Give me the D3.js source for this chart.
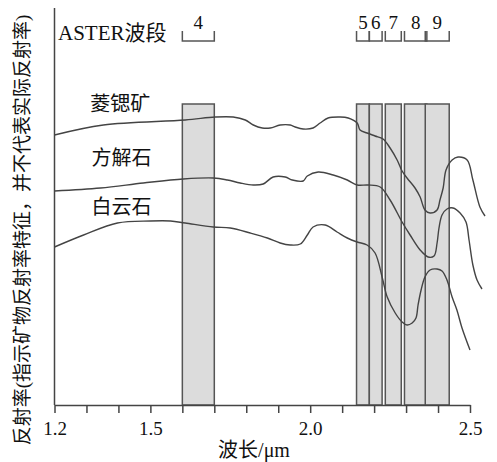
<!DOCTYPE html>
<html>
<head>
<meta charset="utf-8">
<script src="https://cdn.jsdelivr.net/npm/d3@7"></script>
<style>
  body { margin: 0; background: #fff; }
  text { font-family: "Liberation Serif", "Noto Sans CJK SC", serif; fill: #111; }
</style>
</head>
<body>
<svg id="chart"></svg>
<script>
const width = 497, height = 462;

// ASTER SWIR bands (µm)
const bandNames = ["4", "5", "6", "7", "8", "9"];
const bandStart = [1.600, 2.145, 2.185, 2.235, 2.295, 2.360];
const bandEnd   = [1.700, 2.185, 2.225, 2.285, 2.365, 2.435];

// spectra: wavelength (µm) and relative reflectance
const seriesNames = ["菱锶矿", "方解石", "白云石"];
const strontianiteX = [1.200, 1.353, 1.609, 1.703, 1.759, 1.797, 1.822, 1.850, 1.875, 1.906, 1.9375, 1.953, 1.978, 2.009, 2.031, 2.056, 2.094, 2.119, 2.147, 2.156, 2.178, 2.203, 2.228, 2.250, 2.272, 2.2875, 2.303, 2.328, 2.344, 2.359, 2.375, 2.397, 2.406, 2.416, 2.425, 2.444, 2.4625, 2.491, 2.509, 2.531, 2.547];
const strontianiteY = [67.5, 70, 71.25, 72, 72, 71.25, 70, 69.25, 69.25, 70, 70, 69.5, 69, 69.25, 70.5, 71.75, 72, 71.75, 70.5, 68.75, 68, 67.25, 66.5, 64.25, 61.25, 58.5, 56.75, 54.25, 52, 48.75, 48, 48.75, 51.25, 54.25, 58.75, 61.25, 62, 61.25, 56.25, 49.5, 47.25];
const calciteX = [1.200, 1.344, 1.478, 1.603, 1.697, 1.741, 1.781, 1.822, 1.853, 1.884, 1.922, 1.944, 1.978, 1.991, 2.025, 2.072, 2.116, 2.147, 2.181, 2.219, 2.250, 2.2875, 2.3125, 2.344, 2.369, 2.3875, 2.397, 2.403, 2.4125, 2.428, 2.447, 2.469, 2.4875, 2.497, 2.509, 2.522, 2.5375];
const calciteY = [53.5, 54.25, 55.5, 56.5, 56.75, 56.25, 55.5, 55, 55.25, 57, 57, 56.25, 56, 57.25, 58.25, 57.5, 56.25, 55, 55, 54.5, 51.25, 45.75, 42.5, 38.75, 37, 37.25, 40.5, 44.25, 47.5, 49, 49.25, 48, 45.75, 41.25, 35, 31.25, 29];
const dolomiteX = [1.200, 1.291, 1.397, 1.500, 1.563, 1.609, 1.697, 1.750, 1.8125, 1.866, 1.906, 1.9375, 1.969, 1.991, 2.009, 2.047, 2.084, 2.116, 2.147, 2.178, 2.203, 2.225, 2.241, 2.266, 2.2875, 2.303, 2.319, 2.331, 2.3375, 2.347, 2.359, 2.375, 2.397, 2.4125, 2.428, 2.444, 2.459, 2.475, 2.500];
const dolomiteY = [39.5, 42.5, 45.5, 46, 46, 45.5, 44.5, 44.25, 43, 41.75, 40.5, 40, 40.25, 42.5, 44.5, 45, 43.25, 41.75, 40.75, 40, 38, 32, 27, 23, 20.75, 20, 20.5, 21.75, 25, 28.75, 32, 33.75, 34, 33.5, 31.25, 27, 23.75, 19.25, 13.75];
const labelX = [1.406, 1.41, 1.41];
const labelY = [75.25, 61.75, 49.5];

const tickValues = d3.range(12, 26).map(d => d / 10);
const tickLabels = ["1.2", "1.5", "2.0", "2.5"];

const svg = d3.select("#chart").attr("width", width).attr("height", height);

const x = d3.scaleLinear().domain([1.2, 2.5]).range([54.5, 470]);
const y = d3.scaleLinear().domain([0, 100]).range([405, 5]);

// band rectangles
const bands = bandNames.map((n, i) => ({ name: n, x0: bandStart[i], x1: bandEnd[i] }));
svg.selectAll(".band")
    .data(bands)
    .enter().append("rect")
    .attr("class", "band")
    .attr("x", d => x(d.x0))
    .attr("width", d => x(d.x1) - x(d.x0))
    .attr("y", y(75.25))
    .attr("height", y(0) - y(75.25))
    .attr("fill", "#dcdcdc")
    .attr("stroke", "#555")
    .attr("stroke-width", 1.5);

// brackets + band numbers at the top
svg.selectAll(".bracket")
    .data(bands)
    .enter().append("path")
    .attr("class", "bracket")
    .attr("d", d => `M${x(d.x0)},31V41H${x(d.x1)}V31`)
    .attr("fill", "none")
    .attr("stroke", "#555")
    .attr("stroke-width", 1.5);

svg.selectAll(".bandLabel")
    .data(bands)
    .enter().append("text")
    .attr("class", "bandLabel")
    .attr("x", d => x((d.x0 + d.x1) / 2))
    .attr("y", 29)
    .attr("text-anchor", "middle")
    .style("font-size", "19px")
    .text(d => d.name);

svg.append("text")
    .attr("x", 58)
    .attr("y", 40)
    .style("font-size", "21px")
    .text("ASTER波段");

// spectra
const series = [
    strontianiteX.map((v, i) => [v, strontianiteY[i]]),
    calciteX.map((v, i) => [v, calciteY[i]]),
    dolomiteX.map((v, i) => [v, dolomiteY[i]])
];
const line = d3.line()
    .x(d => x(d[0]))
    .y(d => y(d[1]))
    .curve(d3.curveCatmullRom.alpha(0.5));

svg.selectAll(".spectrum")
    .data(series)
    .enter().append("path")
    .attr("class", "spectrum")
    .attr("d", line)
    .attr("fill", "none")
    .attr("stroke", "#444")
    .attr("stroke-width", 1.4);

svg.selectAll(".seriesLabel")
    .data(seriesNames)
    .enter().append("text")
    .attr("class", "seriesLabel")
    .attr("x", (d, i) => x(labelX[i]))
    .attr("y", (d, i) => y(labelY[i]))
    .attr("dy", "0.35em")
    .attr("text-anchor", "middle")
    .style("font-size", "20px")
    .text(d => d);

// axes
const xAxis = d3.axisBottom(x)
    .tickValues(tickValues)
    .tickSize(8)
    .tickSizeOuter(0)
    .tickPadding(9)
    .tickFormat(d => {
        const s = d.toFixed(1);
        return tickLabels.includes(s) ? s : "";
    });

const gx = svg.append("g")
    .attr("transform", `translate(0,${y(0)})`)
    .call(xAxis);
gx.selectAll("path, line").attr("stroke", "#444").attr("stroke-width", 1.5);
gx.selectAll("text")
    .style("font-size", "19px")
    .style("font-family", "Liberation Serif, serif")
    .attr("fill", "#111");

svg.append("line")
    .attr("x1", x(1.2)).attr("x2", x(1.2))
    .attr("y1", 8).attr("y2", y(0))
    .attr("stroke", "#444")
    .attr("stroke-width", 1.5);

svg.append("text")
    .attr("x", 254)
    .attr("y", 457)
    .attr("text-anchor", "middle")
    .style("font-size", "20px")
    .text("波长/μm");

svg.append("text")
    .attr("transform", "translate(22,230) rotate(-90)")
    .attr("dy", "0.35em")
    .attr("text-anchor", "middle")
    .style("font-size", "19px")
    .text("反射率(指示矿物反射率特征，并不代表实际反射率)");
</script>
</body>
</html>
